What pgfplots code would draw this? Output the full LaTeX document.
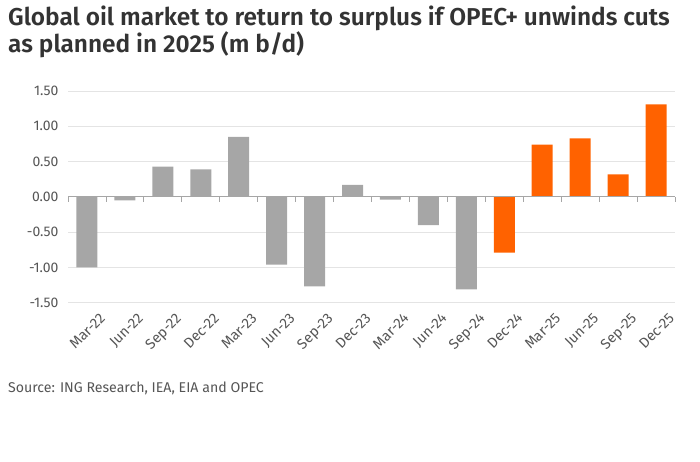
\documentclass[border=0pt]{standalone}
\usepackage{fontspec}
\setmainfont{Fira Sans}
\newfontfamily\titlefont{Fira Sans SemiBold}
\usepackage{pgfplots}
\pgfplotsset{compat=1.18}
\definecolor{inggrey}{HTML}{A6A6A6}
\definecolor{ingorange}{HTML}{FF6200}
\definecolor{txtgrey}{HTML}{555555}
\definecolor{titlegrey}{HTML}{333333}
\definecolor{gridgrey}{HTML}{E4E4E4}
\begin{document}
\begin{tikzpicture}
\useasboundingbox (0bp,0bp) rectangle (700bp,462bp);
\node[anchor=base west, inner sep=0pt, text=titlegrey, font=\titlefont\fontsize{24.5}{27}\selectfont] at (8bp,436bp) {Global oil market to return to surplus if OPEC+ unwinds cuts};
\node[anchor=base west, inner sep=0pt, text=titlegrey, font=\titlefont\fontsize{24.5}{27}\selectfont] at (8bp,409bp) {as planned in 2025 (m b/d)};
\node[anchor=west, inner sep=0pt, text=txtgrey, font=\fontsize{14.2}{16}\selectfont] at (8bp,74bp) {Source: ING Research, IEA, EIA and OPEC};
\begin{axis}[
  at={(68bp,159.3bp)}, anchor=south west,
  scale only axis, width=607bp, height=211.7bp,
  xmin=-0.5, xmax=15.5, ymin=-1.5, ymax=1.5,
  axis line style={draw=none},
  ytick={-1.5,-1,-0.5,0,0.5,1,1.5},
  /pgf/number format/fixed, /pgf/number format/fixed zerofill, /pgf/number format/precision=2, /pgf/number format/assume math mode=true,
  yticklabel style={text=txtgrey, font=\fontsize{14}{16}\selectfont, xshift=-6bp},
  ymajorgrids, grid style={gridgrey, line width=0.8pt},
  major tick length=0pt,
  xtick={0,...,15},
  xticklabels={Mar-22,Jun-22,Sep-22,Dec-22,Mar-23,Jun-23,Sep-23,Dec-23,Mar-24,Jun-24,Sep-24,Dec-24,Mar-25,Jun-25,Sep-25,Dec-25},
  xticklabel style={rotate=45, anchor=north east, text=txtgrey, font=\fontsize{14.5}{16}\selectfont, xshift=3bp, yshift=-14bp, inner sep=1pt},
  ybar, bar width=21bp, bar shift=0pt,
  clip=false,
]
\addplot[fill=inggrey, draw=none] coordinates {
(0,-1.00) (1,-0.05) (2,0.43) (3,0.39) (4,0.85) (5,-0.96) (6,-1.27) (7,0.17) (8,-0.04) (9,-0.40) (10,-1.31)};
\addplot[fill=ingorange, draw=none] coordinates {
(11,-0.79) (12,0.74) (13,0.83) (14,0.32) (15,1.31)};
\draw[gray!70, line width=0.8pt] (axis cs:-0.5,0) -- (axis cs:15.5,0);
\pgfplotsinvokeforeach{-0.5,0.5,...,15.5}{
  \draw[gray!70, line width=0.8pt] (axis cs:#1,0) -- ([yshift=-5bp]axis cs:#1,0);
}
\end{axis}
\end{tikzpicture}
\end{document}
